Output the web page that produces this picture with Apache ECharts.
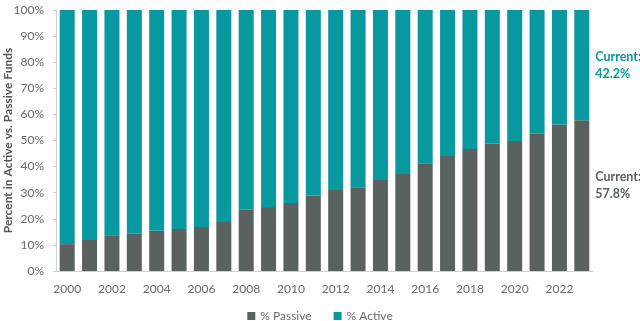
<!DOCTYPE html>
<html><head><meta charset="utf-8">
<script src="https://cdn.jsdelivr.net/npm/echarts@6/dist/echarts.min.js"></script>
<style>html,body{margin:0;padding:0;background:#fff}#c{width:640px;height:321px}</style>
</head><body><div id="c"></div>
<script>
const years = ['2000','2001','2002','2003','2004','2005','2006','2007','2008','2009','2010','2011','2012','2013','2014','2015','2016','2017','2018','2019','2020','2021','2022','2023'];
const passive = [10.3,11.9,13.7,14.4,15.4,16.1,16.9,18.8,23.6,24.5,26.1,28.9,31.0,32.1,34.9,37.2,41.3,44.1,46.7,48.8,49.8,52.6,56.1,57.8];
const active = [89.7,88.1,86.3,85.6,84.6,83.9,83.1,81.2,76.4,75.5,73.9,71.1,69.0,67.9,65.1,62.8,58.7,55.9,53.3,51.2,50.2,47.4,43.9,42.2];
const yTicks = [0,10,20,30,40,50,60,70,80,90,100];
const seriesNames = ['% Passive','% Active'];
const yAxisTitle = 'Percent in Active vs. Passive Funds';
const currentLabel = 'Current:';

const C_P = '#59625e', C_A = '#0898a0';
const FONT = 'Lato, "Open Sans", sans-serif';
const last = years.length - 1;

function lastLabel(color, val) {
  return {
    show: true, position: 'right', distance: 6,
    formatter: p => p.dataIndex === last ? currentLabel + '\n' + val.toFixed(1) + '%' : '',
    color: color, fontWeight: 'bold', fontSize: 12.5, fontFamily: FONT, lineHeight: 17, align: 'left'
  };
}

const chart = echarts.init(document.getElementById('c'), null, {renderer: 'canvas'});
chart.setOption({
  animation: false,
  grid: {left: 56, right: 47, top: 10, bottom: 50, containLabel: false, outerBoundsMode: 'none'},
  legend: {
    top: 305, left: 'center', itemWidth: 8, itemHeight: 8, itemGap: 22, icon: 'rect',
    textStyle: {color: '#6a6a6a', fontSize: 12, fontFamily: FONT}
  },
  xAxis: {
    type: 'category', data: years,
    axisLine: {lineStyle: {color: '#d0d0d0'}},
    axisTick: {show: false},
    axisLabel: {interval: 1, color: '#6a6a6a', fontSize: 12, fontFamily: FONT, margin: 12}
  },
  yAxis: {
    type: 'value', min: 0, max: 100, interval: 10,
    name: yAxisTitle, nameLocation: 'middle', nameGap: 42, nameRotate: 90, nameMoveOverlap: false,
    nameTextStyle: {color: '#555', fontWeight: 'bold', fontSize: 12, fontFamily: FONT},
    axisLine: {show: true, lineStyle: {color: '#d0d0d0'}},
    axisTick: {show: true, length: 3, lineStyle: {color: '#d0d0d0'}},
    splitLine: {show: false},
    axisLabel: {formatter: v => yTicks.includes(v) ? v + '%' : '', color: '#6a6a6a', fontSize: 12, fontFamily: FONT, margin: 12}
  },
  series: [
    {name: seriesNames[0], type: 'bar', stack: 's', data: passive, barWidth: 15,
     itemStyle: {color: C_P}, label: lastLabel(C_P, passive[last]), labelLayout: {dy: -10}},
    {name: seriesNames[1], type: 'bar', stack: 's', data: active, barWidth: 15,
     itemStyle: {color: C_A}, label: lastLabel(C_A, active[last])}
  ]
});
</script></body></html>
